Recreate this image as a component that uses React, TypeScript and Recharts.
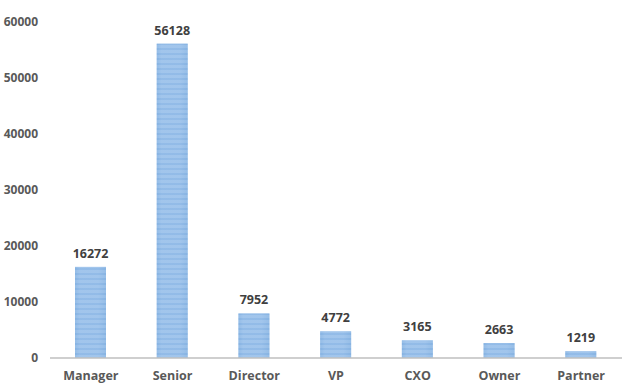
import { BarChart, Bar, XAxis, YAxis, LabelList } from 'recharts';

const levels = ['Manager', 'Senior', 'Director', 'VP', 'CXO', 'Owner', 'Partner'];
const counts = [16272, 56128, 7952, 4772, 3165, 2663, 1219];
const yTicks = [0, 10000, 20000, 30000, 40000, 50000, 60000];

const data = levels.map((level, i) => ({ level, count: counts[i] }));

const font = '"Open Sans", "Liberation Sans", sans-serif';

// striped fill with a faint horizontal shade on top, like the original
const StripedBar = (props: any) => {
  const { x, y, width, height } = props;
  if (!height || height <= 0) return null;
  return (
    <g>
      <rect x={x} y={y} width={width} height={height} fill="url(#barStripes)" />
      <rect x={x} y={y} width={width} height={height} fill="url(#barShade)" fillOpacity={0.45} />
    </g>
  );
};

export default function App() {
  return (
    <div style={{ position: 'absolute', left: 0, top: 0, width: 640, height: 386, background: '#fff' }}>
      <BarChart width={640} height={386} data={data} margin={{ top: 22, right: 18, left: 0, bottom: 0 }}>
        <defs>
          <linearGradient id="barShade" x1="0" y1="0" x2="1" y2="0">
            <stop offset="0%" stopColor="#7eaee0" />
            <stop offset="15%" stopColor="#9cc2ec" />
            <stop offset="75%" stopColor="#9cc2ec" />
            <stop offset="100%" stopColor="#82b0e0" />
          </linearGradient>
          <pattern id="barStripes" width="6" height="5" patternUnits="userSpaceOnUse">
            <rect x="0" y="0" width="6" height="5" fill="#a6c8ec" />
            <rect x="0" y="3" width="6" height="2" fill="#8bb6e4" />
          </pattern>
        </defs>
        <XAxis
          dataKey="level"
          height={28}
          axisLine={{ stroke: '#bfbfbf', strokeWidth: 1.5 }}
          tickLine={false}
          tickMargin={7}
          interval={0}
          tick={{ fontSize: 12.5, fontWeight: 700, fill: '#595959', fontFamily: font }}
        />
        <YAxis
          width={50}
          domain={[0, 60000]}
          ticks={yTicks}
          axisLine={false}
          tickLine={false}
          tickMargin={6}
          tick={{ fontSize: 12, fontWeight: 700, fill: '#595959', fontFamily: font }}
        />
        <Bar dataKey="count" barSize={31} shape={StripedBar} isAnimationActive={false}>
          <LabelList
            dataKey="count"
            position="top"
            offset={9}
            style={{ fontSize: 12.5, fontWeight: 700, fill: '#404040', fontFamily: font }}
          />
        </Bar>
      </BarChart>
    </div>
  );
}
